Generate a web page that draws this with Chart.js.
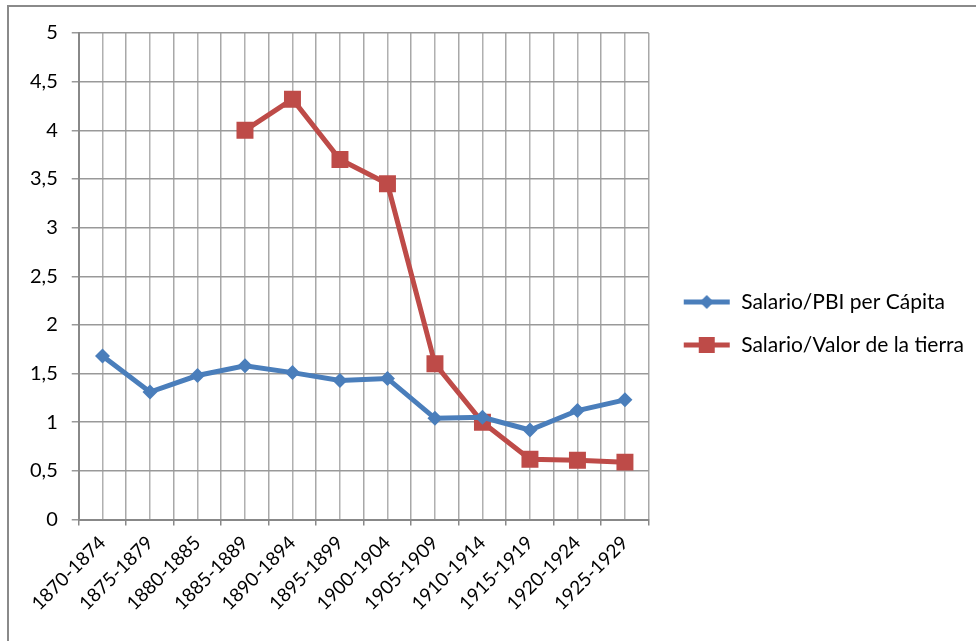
<!DOCTYPE html>
<html>
<head>
<meta charset="utf-8">
<script src="https://cdn.jsdelivr.net/npm/chart.js@4"></script>
<style>
  html, body { margin: 0; padding: 0; background: #fff; overflow: hidden; }
  #frame {
    position: absolute; left: 7px; top: 5px;
    width: 967px; height: 634px;
    border-top: 2px solid #8a8a8a; border-left: 2px solid #8a8a8a;
  }
</style>
</head>
<body>
<div id="frame"><canvas id="chart" width="967" height="634"></canvas></div>
<script>
// periodos (categorías)
const periods = ['1870-1874', '1875-1879', '1880-1885', '1885-1889', '1890-1894', '1895-1899',
  '1900-1904', '1905-1909', '1910-1914', '1915-1919', '1920-1924', '1925-1929'];
// series
const salarioPbi = [1.68, 1.31, 1.48, 1.58, 1.51, 1.43, 1.45, 1.04, 1.05, 0.92, 1.12, 1.23];
const salarioTierra = [null, null, null, 4.0, 4.32, 3.70, 3.45, 1.60, 1.0, 0.62, 0.61, 0.59];
const seriesNames = ['Salario/PBI per Cápita', 'Salario/Valor de la tierra'];

const BLUE = '#4a7ebb';
const RED = '#be4b48';
const FONT = 'Lato, "Open Sans", sans-serif';

// iconos de leyenda: línea + marcador
function legendIcon(color, shape) {
  const c = document.createElement('canvas');
  c.width = 48; c.height = 20;
  const g = c.getContext('2d');
  g.strokeStyle = color; g.lineWidth = 5;
  g.beginPath(); g.moveTo(1, 10); g.lineTo(47, 10); g.stroke();
  g.fillStyle = color;
  if (shape === 'diamond') {
    g.beginPath(); g.moveTo(24, 3); g.lineTo(31, 10); g.lineTo(24, 17); g.lineTo(17, 10); g.closePath(); g.fill();
  } else {
    g.fillRect(16, 2, 16, 16);
  }
  return c;
}
const icons = [legendIcon(BLUE, 'diamond'), legendIcon(RED, 'square')];

Chart.defaults.font.family = FONT;
Chart.defaults.color = '#000';

new Chart(document.getElementById('chart').getContext('2d'), {
  type: 'line',
  data: {
    labels: periods,
    datasets: [
      {
        label: seriesNames[0],
        data: salarioPbi,
        borderColor: BLUE,
        backgroundColor: BLUE,
        borderWidth: 5,
        pointStyle: 'rectRot',
        pointRadius: 7.5,
        pointBorderWidth: 0,
        tension: 0
      },
      {
        label: seriesNames[1],
        data: salarioTierra,
        borderColor: RED,
        backgroundColor: RED,
        borderWidth: 5,
        pointStyle: 'rect',
        pointRadius: 12,
        pointBorderWidth: 0,
        tension: 0
      }
    ]
  },
  options: {
    responsive: false,
    animation: false,
    layout: { padding: { top: 19, left: 7, right: 2, bottom: 20 } },
    plugins: {
      tooltip: { enabled: false },
      legend: {
        position: 'right',
        maxWidth: 340,
        labels: {
          usePointStyle: true,
          pointStyleWidth: 48,
          padding: 22,
          font: { size: 21 },
          generateLabels: chart => Chart.defaults.plugins.legend.labels.generateLabels(chart)
            .map((item, i) => Object.assign(item, { pointStyle: icons[i] }))
        }
      }
    },
    scales: {
      x: {
        type: 'category',
        offset: true,
        grid: { offset: true, color: '#a8a8a8', lineWidth: 1.5, tickLength: 6, tickColor: '#888' },
        border: { color: '#888', width: 2 },
        ticks: { maxRotation: 45, minRotation: 45, font: { size: 19 }, padding: 6 }
      },
      x2: {
        type: 'category',
        labels: periods,
        position: 'top',
        offset: true,
        grid: { offset: false, color: '#b0b0b0', lineWidth: 1.5, drawTicks: false },
        border: { display: false },
        ticks: { display: false }
      },
      y: {
        min: 0,
        max: 5,
        ticks: {
          stepSize: 0.5,
          font: { size: 20 },
          padding: 14,
          callback: v => String(v).replace('.', ',')
        },
        grid: { color: '#999', lineWidth: 1.5, tickLength: 7 },
        border: { color: '#888', width: 2 }
      },
      // eje vacío a la derecha: separa el área del gráfico de la leyenda
      gap: {
        position: 'right',
        min: 0,
        max: 5,
        grid: { display: false, drawTicks: false },
        border: { display: false },
        ticks: { display: false },
        afterFit: s => { s.width = 12; }
      }
    }
  }
});
</script>
</body>
</html>
